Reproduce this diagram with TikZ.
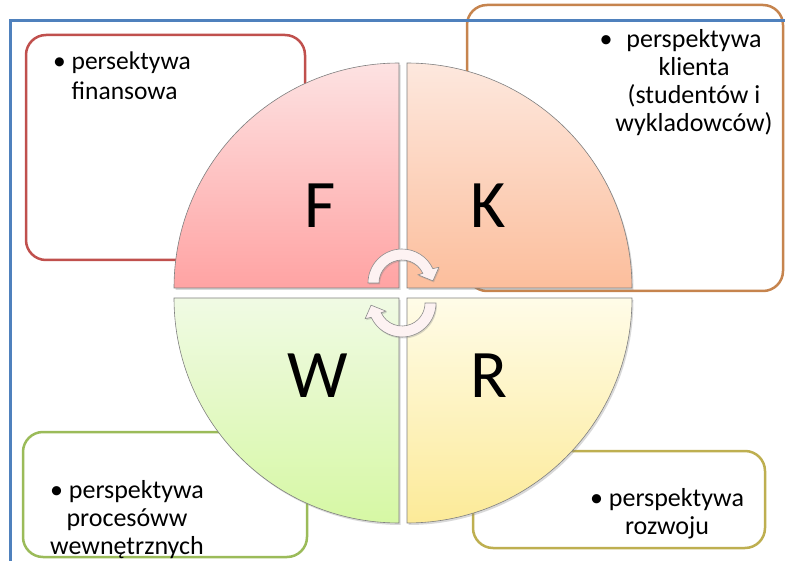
\documentclass[tikz,border=0pt]{standalone}
\usepackage{fontspec}
\setmainfont{Carlito}
\usetikzlibrary{shadows}

\definecolor{frameblue}{RGB}{79,129,189}
\definecolor{lineF}{RGB}{192,80,77}
\definecolor{lineK}{RGB}{198,132,78}
\definecolor{lineW}{RGB}{155,187,89}
\definecolor{lineR}{RGB}{190,175,80}
\definecolor{topF}{RGB}{253,226,226}
\definecolor{botF}{RGB}{255,163,163}
\definecolor{topK}{RGB}{253,232,222}
\definecolor{botK}{RGB}{252,190,156}
\definecolor{topW}{RGB}{240,250,228}
\definecolor{botW}{RGB}{214,248,164}
\definecolor{topR}{RGB}{255,252,232}
\definecolor{botR}{RGB}{252,234,152}

\tikzset{
  perspbox/.style={draw, line width=2.5pt, rounded corners=20pt, fill=white, inner sep=0pt},
  quarter/.style={draw=black!50, line width=0.6pt,
    drop shadow={shadow xshift=1.5pt, shadow yshift=-2pt, opacity=0.3}},
  letter/.style={font=\fontsize{68}{68}\selectfont, anchor=base},
  txt/.style={font=\fontsize{26}{28}\selectfont, inner sep=0pt, anchor=base},
  turnarrow/.pic={
    \filldraw[fill={rgb,255:red,253;green,242;blue,242}, draw=black!45, line width=0.6pt,
      drop shadow={shadow xshift=1pt, shadow yshift=-1.5pt, opacity=0.3}]
      (180:34) arc[start angle=180, end angle=335, radius=34]
      -- (337:40) -- (356:31) -- (333:18) -- (335:23)
      arc[start angle=335, end angle=180, radius=23] -- cycle;
  }
}

\begin{document}
\begin{tikzpicture}[x=1pt, y=-1pt]
\useasboundingbox (0,0) rectangle (785,561);
% the four perspective boxes
\node[perspbox, draw=lineF, minimum width=279pt, minimum height=225pt] (boxF) at (165.5,147.5) {};
\node[perspbox, draw=lineK, minimum width=316pt, minimum height=286pt] (boxK) at (625,148) {};
\node[perspbox, draw=lineW, minimum width=284pt, minimum height=125pt] (boxW) at (165,494.5) {};
\node[perspbox, draw=lineR, minimum width=292pt, minimum height=97pt] (boxR) at (619,499.5) {};
% circle cut in four quarters
\shade[quarter, top color=topF, bottom color=botF]
  (399,288) -- (174,288) arc[start angle=180, end angle=270, radius=225] -- cycle;
\shade[quarter, top color=topK, bottom color=botK]
  (407,288) -- (407,63) arc[start angle=270, end angle=360, radius=225] -- cycle;
\shade[quarter, top color=topR, bottom color=botR]
  (407,298) -- (632,298) arc[start angle=0, end angle=90, radius=225] -- cycle;
\shade[quarter, top color=topW, bottom color=botW]
  (399,298) -- (399,523) arc[start angle=90, end angle=180, radius=225] -- cycle;
% letters
\node[letter] (F) at (320,228) {F};
\node[letter] (K) at (488,228) {K};
\node[letter] (W) at (318,398) {W};
\node[letter] (R) at (489,398) {R};
% turning arrows in the middle
\pic at (402,283) {turnarrow};
\pic[rotate=180] at (402,303) {turnarrow};
% frame
\draw[frameblue, line width=3pt] (10,561) -- (10,21) -- (785,21);
% texts
\node[txt, font=\fontsize{25.5}{30}\selectfont, anchor=base west] (txtF) at (53,70)
  {\begin{tabular}[t]{@{}l@{}}\textbullet\ persektywa\\\phantom{\textbullet\ }finansowa\end{tabular}};
\node[txt] (txtK) at (694,48)
  {\begin{tabular}[t]{@{}c@{}}\llap{\textbullet\hspace{14pt}}perspektywa\\klienta\\(studentów i\\wykladowców)\end{tabular}};
\node[txt] (txtW) at (127,498)
  {\begin{tabular}[t]{@{}c@{}}\textbullet\ perspektywa\\procesóww\\wewnętrznych\end{tabular}};
\node[txt] (txtR) at (667,506)
  {\begin{tabular}[t]{@{}c@{}}\textbullet\ perspektywa\\rozwoju\end{tabular}};
\end{tikzpicture}
\end{document}
